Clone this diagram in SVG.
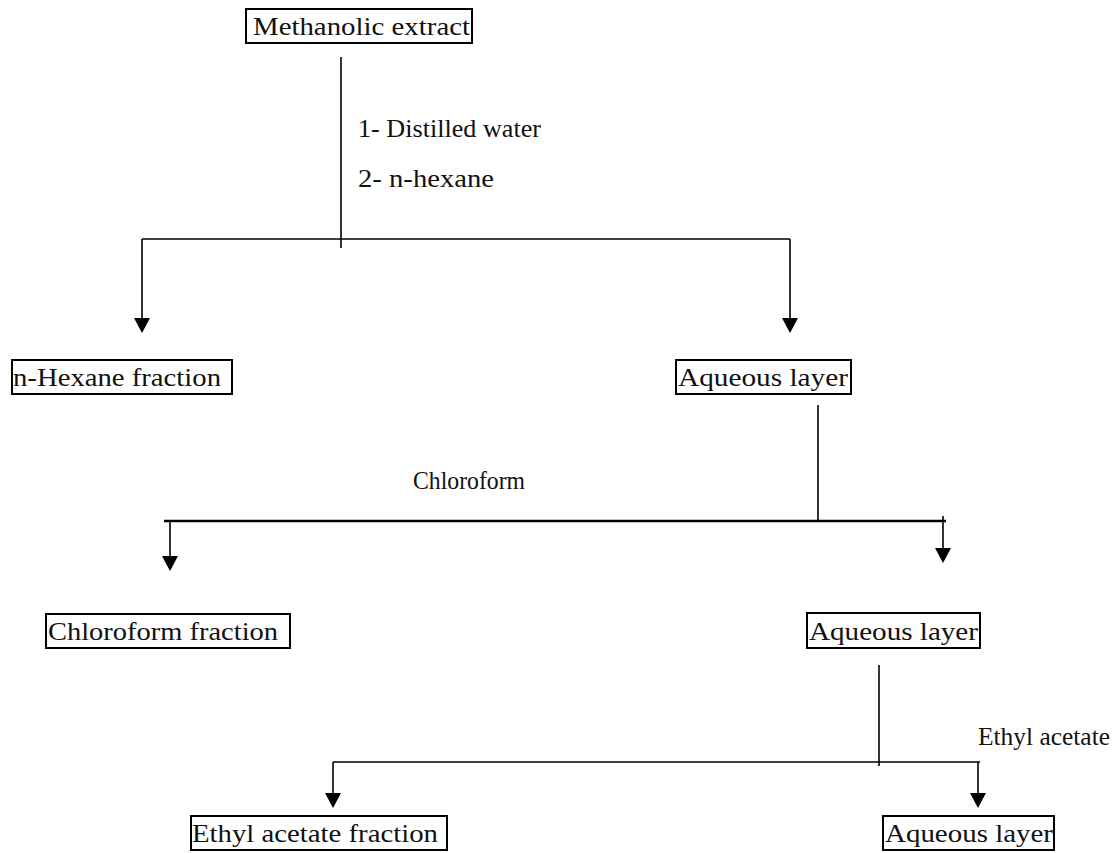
<svg xmlns="http://www.w3.org/2000/svg" width="1113" height="853" viewBox="0 0 1113 853">
<style>
.box{fill:none;stroke:#000;stroke-width:2}
.t{font-family:"Liberation Serif","DejaVu Serif",serif;font-size:26px;fill:#111}
.ln{stroke:#000;stroke-width:1.6;fill:none}
.ah{fill:#000}
</style>
<rect width="1113" height="853" fill="#fff"/>
<g id="connectors">
<line class="ln" x1="341" y1="57" x2="341" y2="248"/>
<line class="ln" x1="142" y1="239" x2="790" y2="239"/>
<line class="ln" x1="142" y1="239" x2="142" y2="320"/>
<polygon class="ah" points="134,318 150,318 142,333"/>
<line class="ln" x1="790" y1="239" x2="790" y2="320"/>
<polygon class="ah" points="782,318 798,318 790,333"/>
<line class="ln" x1="818" y1="405" x2="818" y2="521"/>
<line class="ln" x1="164" y1="521" x2="946" y2="521" style="stroke-width:2.4"/>
<line class="ln" x1="170" y1="521" x2="170" y2="558"/>
<polygon class="ah" points="162,556 178,556 170,571"/>
<line class="ln" x1="943" y1="516" x2="943" y2="550"/>
<polygon class="ah" points="935,548 951,548 943,563"/>
<line class="ln" x1="879" y1="665" x2="879" y2="766"/>
<line class="ln" x1="333" y1="762" x2="980" y2="762"/>
<line class="ln" x1="333" y1="762" x2="333" y2="795"/>
<polygon class="ah" points="325,793 341,793 333,808"/>
<line class="ln" x1="978" y1="762" x2="978" y2="795"/>
<polygon class="ah" points="970,793 986,793 978,808"/>
</g>
<g id="labels">
<text class="t" x="358" y="137" textLength="183" lengthAdjust="spacingAndGlyphs">1- Distilled water</text>
<text class="t" x="358" y="187" textLength="136" lengthAdjust="spacingAndGlyphs">2- n-hexane</text>
<text class="t" x="413" y="489" textLength="112" lengthAdjust="spacingAndGlyphs">Chloroform</text>
<text class="t" x="978" y="745" textLength="132" lengthAdjust="spacingAndGlyphs">Ethyl acetate</text>
</g>
<g id="n1"><rect class="box" x="246" y="9" width="226" height="34"/><text class="t" x="253" y="35" textLength="217" lengthAdjust="spacingAndGlyphs">Methanolic extract</text></g>
<g id="n2"><rect class="box" x="12" y="360" width="220" height="34"/><text class="t" x="13" y="386" textLength="208" lengthAdjust="spacingAndGlyphs">n-Hexane fraction</text></g>
<g id="n3"><rect class="box" x="676" y="360" width="175" height="34"/><text class="t" x="678" y="386" textLength="170" lengthAdjust="spacingAndGlyphs">Aqueous layer</text></g>
<g id="n4"><rect class="box" x="46" y="614" width="244" height="34"/><text class="t" x="48" y="640" textLength="230" lengthAdjust="spacingAndGlyphs">Chloroform fraction</text></g>
<g id="n5"><rect class="box" x="807" y="613" width="173" height="35"/><text class="t" x="809" y="640" textLength="169" lengthAdjust="spacingAndGlyphs">Aqueous layer</text></g>
<g id="n6"><rect class="box" x="191" y="816" width="256" height="34"/><text class="t" x="192" y="842" textLength="246" lengthAdjust="spacingAndGlyphs">Ethyl acetate fraction</text></g>
<g id="n7"><rect class="box" x="883" y="816" width="171" height="34"/><text class="t" x="885" y="842" textLength="168" lengthAdjust="spacingAndGlyphs">Aqueous layer</text></g>
</svg>
